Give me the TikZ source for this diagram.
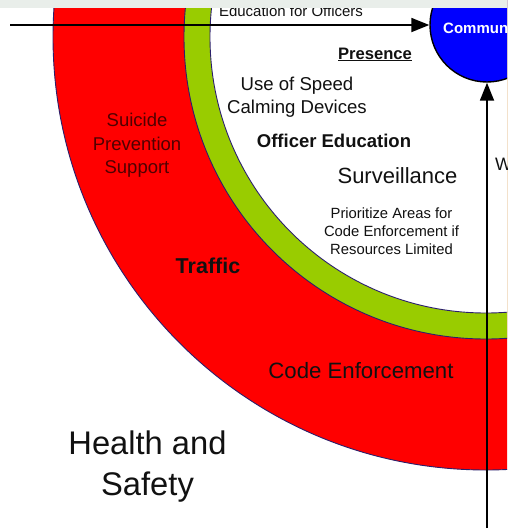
\documentclass[tikz,border=0pt]{standalone}
\usepackage{fontspec}
\setmainfont{Liberation Sans}
\usetikzlibrary{arrows.meta}
\definecolor{ringred}{HTML}{FF0000}
\definecolor{ringgreen}{HTML}{99CC00}
\definecolor{ringline}{HTML}{2B1F6B}
\definecolor{commblue}{HTML}{0000FF}
\definecolor{textdark}{HTML}{111111}
\definecolor{suicidered}{HTML}{500000}
\definecolor{topstrip}{HTML}{E9EEEA}
\newcommand{\fs}[2]{\fontsize{#1}{#2}\selectfont}
\tikzset{
  ring/.style={draw=ringline, line width=0.9pt},
  txt/.style={anchor=base, inner sep=0pt, text=textdark},
  arr/.style={line width=1.8pt, -{Triangle[length=18pt, width=14pt]}},
}
\begin{document}
\begin{tikzpicture}[x=1pt, y=-1pt]
  \useasboundingbox (0,0) rectangle (507,531);
  \begin{scope}
    \clip (0,0) rectangle (507,531);
    % rings
    \coordinate (ctr) at (486,37);
    \fill[ringred, ring] (ctr) circle[radius=433pt];
    \fill[ringgreen, ring] (ctr) circle[radius=302pt];
    \fill[white, ring] (ctr) circle[radius=276pt];
    % circle and arrows
    \node[circle, draw=black, line width=1.4pt, fill=commblue, minimum size=114pt, inner sep=0pt] (comm) at (487,25) {};
    \coordinate (left) at (10,25);
    \coordinate (bottom) at (487,528);
    \draw[arr] (left) -- (comm);
    \draw[arr] (bottom) -- (comm);
    % labels (multi-line ones sit on their last line)
    \node[txt, font=\fs{15}{18}] (educ) at (291,16) {Education for Officers};
    \node[txt, font=\bfseries\fs{16.6}{20}] (pres) at (375,59) {\underline{Presence}};
    \node[txt, align=center, font=\fs{18.6}{22.6}] (speed) at (297,113.3) {Use of Speed\\Calming Devices};
    \node[txt, font=\bfseries\fs{18.5}{22}] (offed) at (334,147.3) {Officer Education};
    \node[txt, font=\fs{22}{26}] (surv) at (397.5,183.3) {Surveillance};
    \node[txt, align=center, font=\fs{14.8}{18}] (prio) at (391.5,254.3) {Prioritize Areas for\\Code Enforcement if\\Resources Limited};
    \node[txt, align=center, text=suicidered, font=\fs{18.5}{23.3}] (suic) at (137,173.3) {Suicide\\Prevention\\Support};
    \node[txt, font=\bfseries\fs{21.5}{26}] (traf) at (208,273.3) {Traffic};
    \node[txt, font=\fs{22.2}{26}] (code) at (361,378.7) {Code Enforcement};
    \node[txt, align=center, font=\fs{32.7}{41.7}] (health) at (147.5,495.7) {Health and\\Safety};
    \node[txt, anchor=base west, text=white, font=\bfseries\fs{15}{18}] (commtext) at (443,33.3) {Community};
    \node[txt, anchor=base west, font=\fs{18}{22}] (wlabel) at (495,170) {W};
    % strip at the top
    \fill[topstrip] (0,0) rectangle (507,8);
  \end{scope}
\end{tikzpicture}
\end{document}
